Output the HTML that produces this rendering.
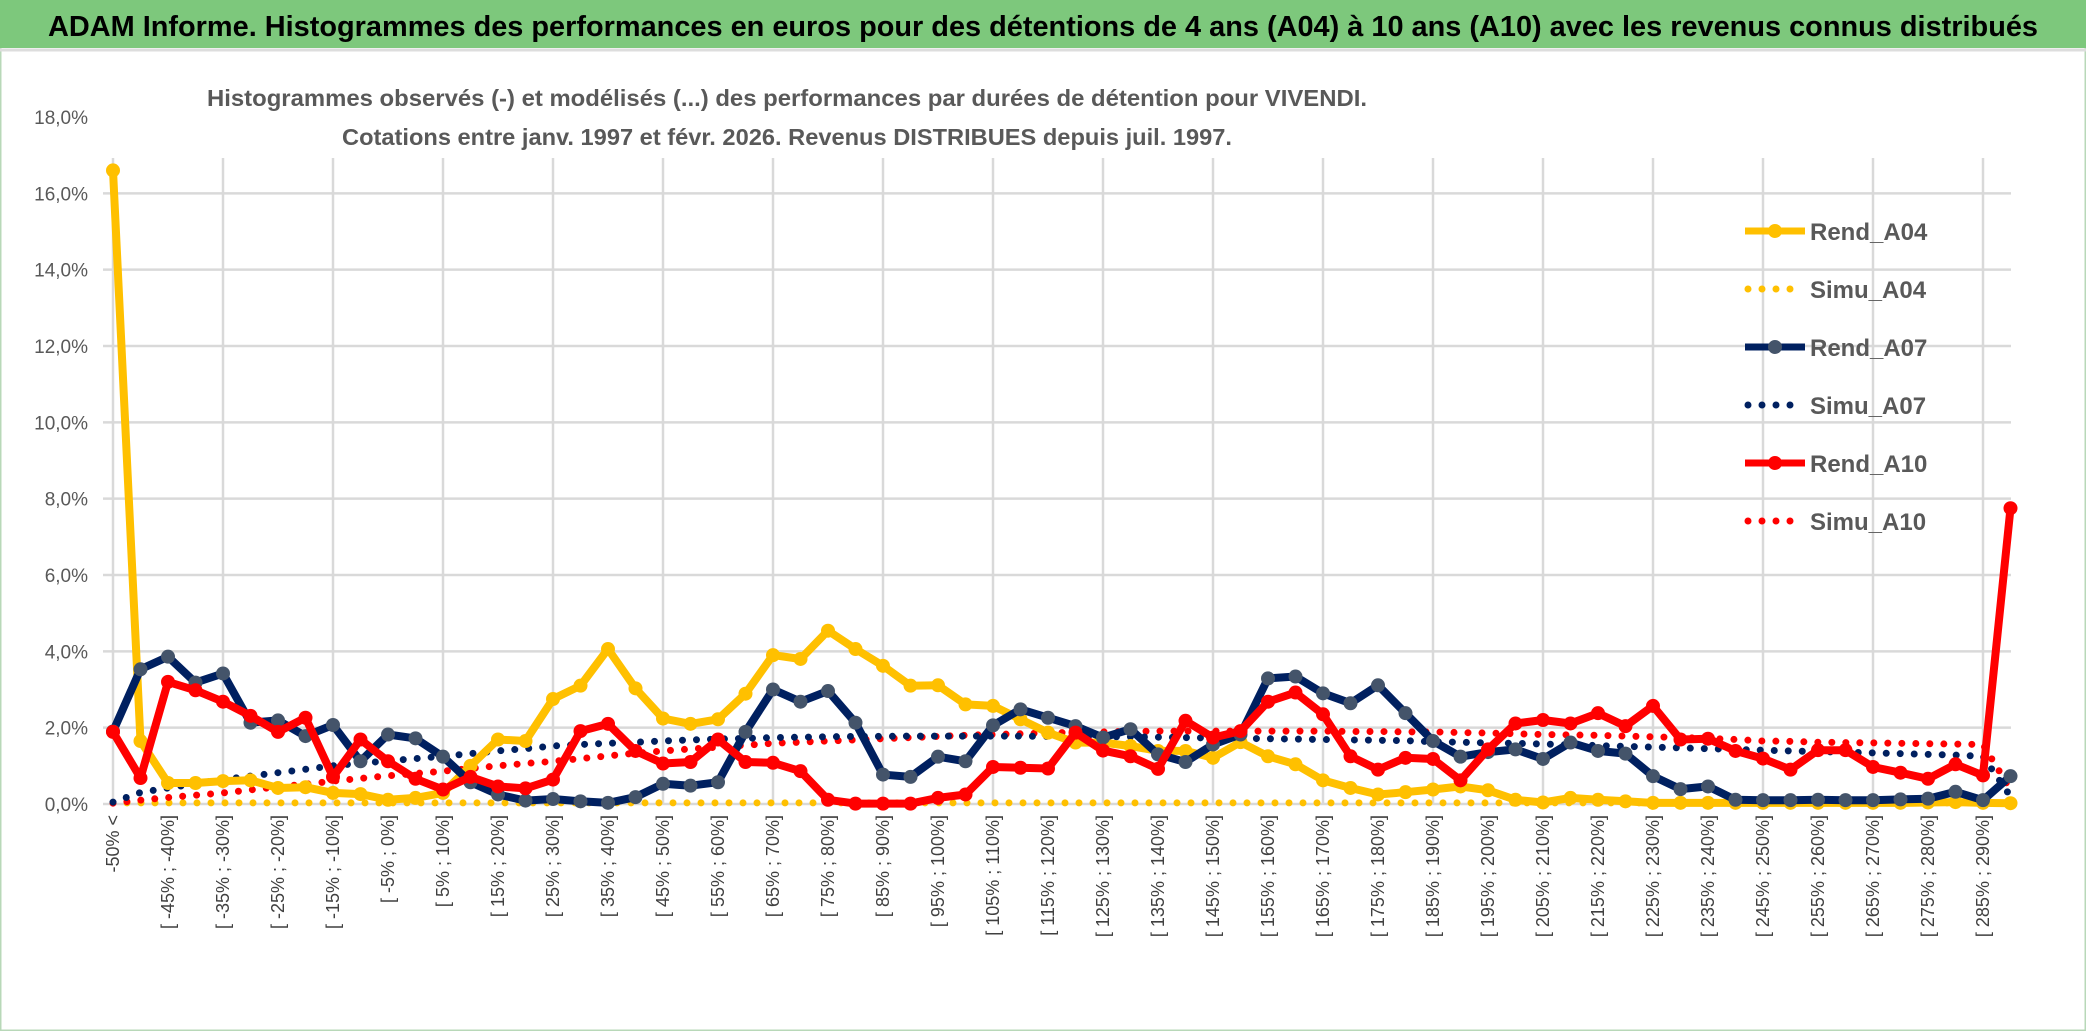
<!DOCTYPE html>
<html><head><meta charset="utf-8"><style>
body{margin:0;width:2086px;height:1031px;overflow:hidden;background:#fff;font-family:"Liberation Sans",sans-serif}
svg{display:block}
</style></head><body>
<svg id="c" width="2086" height="1031" xmlns="http://www.w3.org/2000/svg">
<rect x="0" y="0" width="2086" height="1031" fill="#fff" stroke="#b8d8b8" stroke-width="3"/>
<rect x="0" y="0" width="2086" height="48" fill="#7dc87c"/>
<line x1="0" y1="50" x2="2086" y2="50" stroke="#ddd" stroke-width="3"/>
<text x="1043" y="36" text-anchor="middle" font-family="'Liberation Sans Narrow','Liberation Sans',sans-serif" font-size="29" font-weight="bold" fill="#000" textLength="1990" lengthAdjust="spacingAndGlyphs">ADAM Informe. Histogrammes des performances en euros pour des détentions de 4 ans (A04) à 10 ans (A10) avec les revenus connus distribués</text>
<g id="grid"></g>
<rect x="100" y="72" width="1920" height="86" fill="#fff"/>
<text x="787" y="106" text-anchor="middle" font-size="23" font-weight="bold" fill="#595959" textLength="1160" lengthAdjust="spacingAndGlyphs">Histogrammes observés (-) et modélisés (...) des performances par durées de détention pour VIVENDI.</text>
<text x="787" y="145" text-anchor="middle" font-size="23" font-weight="bold" fill="#595959" textLength="890" lengthAdjust="spacingAndGlyphs">Cotations entre janv. 1997 et févr. 2026. Revenus DISTRIBUES depuis juil. 1997.</text>
<g id="series"></g>
<g id="legend"></g>
</svg>
<script>
const yTicks=[0,2,4,6,8,10,12,14,16,18];
const rendA04=[16.6,1.65,0.55,0.55,0.6,0.62,0.42,0.44,0.29,0.26,0.11,0.16,0.29,1.0,1.69,1.65,2.75,3.1,4.06,3.03,2.24,2.1,2.22,2.89,3.9,3.8,4.54,4.06,3.62,3.1,3.11,2.61,2.57,2.22,1.87,1.61,1.61,1.52,1.39,1.39,1.21,1.62,1.25,1.04,0.62,0.42,0.25,0.31,0.38,0.46,0.36,0.11,0.04,0.16,0.11,0.07,0.03,0.03,0.03,0.03,0.03,0.03,0.03,0.03,0.03,0.03,0.04,0.05,0.03,0.02];
const simuA04=[0.03,0.03,0.03,0.03,0.03,0.03,0.03,0.03,0.03,0.03,0.03,0.03,0.03,0.03,0.03,0.03,0.03,0.03,0.03,0.03,0.03,0.03,0.03,0.03,0.03,0.03,0.03,0.03,0.03,0.03,0.03,0.03,0.03,0.03,0.03,0.03,0.03,0.03,0.03,0.03,0.03,0.03,0.03,0.03,0.03,0.03,0.03,0.03,0.03,0.03,0.03,0.03,0.03,0.03,0.03,0.03,0.03,0.03,0.03,0.03,0.03,0.03,0.03,0.03,0.03,0.03,0.03,0.03,0.03,0.03];
const rendA07=[1.9,3.53,3.86,3.18,3.42,2.13,2.19,1.78,2.07,1.12,1.82,1.72,1.24,0.57,0.25,0.09,0.13,0.07,0.03,0.18,0.53,0.48,0.57,1.89,3.0,2.68,2.96,2.13,0.77,0.71,1.24,1.12,2.06,2.48,2.26,2.04,1.74,1.96,1.3,1.1,1.56,1.82,3.29,3.34,2.9,2.64,3.11,2.38,1.65,1.24,1.36,1.43,1.18,1.61,1.39,1.32,0.73,0.39,0.46,0.11,0.1,0.1,0.11,0.1,0.1,0.12,0.14,0.32,0.1,0.73];
const simuA07=[0.05,0.3,0.42,0.53,0.64,0.73,0.82,0.91,1.0,1.07,1.13,1.19,1.25,1.32,1.39,1.45,1.52,1.56,1.59,1.62,1.65,1.68,1.7,1.72,1.74,1.75,1.76,1.77,1.77,1.78,1.78,1.78,1.78,1.78,1.77,1.77,1.76,1.76,1.75,1.74,1.73,1.72,1.71,1.7,1.69,1.68,1.67,1.66,1.63,1.62,1.6,1.59,1.57,1.55,1.53,1.51,1.49,1.47,1.45,1.43,1.41,1.39,1.37,1.36,1.34,1.32,1.3,1.28,1.25,0.2];
const rendA10=[1.89,0.68,3.2,2.98,2.68,2.31,1.89,2.26,0.71,1.69,1.12,0.66,0.38,0.71,0.46,0.41,0.64,1.91,2.1,1.39,1.06,1.1,1.69,1.1,1.08,0.86,0.11,0.01,0.01,0.01,0.16,0.25,0.97,0.95,0.93,1.87,1.4,1.25,0.92,2.18,1.74,1.91,2.68,2.92,2.35,1.25,0.9,1.21,1.18,0.62,1.43,2.11,2.2,2.11,2.38,2.04,2.57,1.69,1.71,1.39,1.19,0.9,1.41,1.41,0.97,0.82,0.66,1.04,0.75,7.75];
const simuA10=[0.02,0.1,0.17,0.23,0.29,0.37,0.45,0.52,0.6,0.67,0.74,0.8,0.86,0.93,1.0,1.06,1.12,1.19,1.26,1.33,1.39,1.44,1.49,1.54,1.59,1.62,1.65,1.68,1.71,1.74,1.77,1.8,1.82,1.84,1.86,1.88,1.89,1.9,1.91,1.91,1.91,1.91,1.91,1.91,1.91,1.9,1.9,1.89,1.89,1.87,1.86,1.84,1.82,1.81,1.8,1.78,1.76,1.74,1.72,1.69,1.65,1.64,1.62,1.61,1.6,1.59,1.58,1.57,1.56,0.38];
const categories=[];
categories.push('-50% <');
for(let v=-50;v<295;v+=5){categories.push('[ '+v+'% ; '+(v+5)+'%]');}

const svg=document.getElementById('c'),NS='http://www.w3.org/2000/svg';
const X0=113,DX=27.5,Y0=804,YS=(804-117)/18;
const xs=i=>X0+i*DX, ys=v=>Y0-v*YS;
function mk(tag,attrs,parent){const e=document.createElementNS(NS,tag);for(const k in attrs)e.setAttribute(k,attrs[k]);parent.appendChild(e);return e;}
const grid=document.getElementById('grid');
yTicks.forEach(t=>{
  const l=mk('line',{x1:X0-10,x2:2011,y1:ys(t),y2:ys(t),stroke:'#d9d9d9','stroke-width':2.5},grid);
  
  
  const tx=mk('text',{x:88,y:ys(t)+7,'text-anchor':'end','font-size':19,fill:'#595959'},grid);
  
  
  tx.textContent=t.toFixed(1).replace('.',',')+'%';
});
for(let i=0;i<categories.length;i+=4){
  const l=mk('line',{x1:xs(i),x2:xs(i),y1:158,y2:Y0,stroke:'#d9d9d9','stroke-width':2.5},grid);
  
  
}
categories.forEach((c,i)=>{
  if(i%2)return;
  const t=mk('text',{x:0,y:0,'text-anchor':'end','font-size':18,fill:'#404040',transform:`translate(${xs(i)+6},815) rotate(-90)`},grid);
  
  
  t.textContent=c;
});
const ser=document.getElementById('series');
function drawLine(data,color,name){
  const d=data.map((v,i)=>(i?'L':'M')+xs(i).toFixed(1)+','+ys(v).toFixed(1)).join('');
  const p=mk('path',{d,fill:'none',stroke:color,'stroke-width':8,'stroke-linejoin':'round'},ser);
  
  
  const mc=color==='#002060'?'#44546a':color;
  data.forEach((v,i)=>{
    const m=mk('circle',{cx:xs(i),cy:ys(v),r:7,fill:mc},ser);
    
    
  });
}
function drawDots(data,color,name){
  const d=data.map((v,i)=>(i?'L':'M')+xs(i).toFixed(1)+','+ys(v).toFixed(1)).join('');
  const p=mk('path',{d,fill:'none',stroke:color,'stroke-width':7,'stroke-linecap':'round','stroke-dasharray':'0 14'},ser);
  
  
}
drawDots(simuA04,'#ffc000','simu-a04');
drawDots(simuA10,'#ff0000','simu-a10');
drawDots(simuA07,'#002060','simu-a07');
drawLine(rendA04,'#ffc000','rend-a04');
drawLine(rendA07,'#002060','rend-a07');
drawLine(rendA10,'#ff0000','rend-a10');
const leg=document.getElementById('legend');
const legItems=[['Rend_A04','#ffc000',0],['Simu_A04','#ffc000',1],['Rend_A07','#002060',0],['Simu_A07','#002060',1],['Rend_A10','#ff0000',0],['Simu_A10','#ff0000',1]];
legItems.forEach((it,k)=>{
  const y=231+k*58;
  const g=mk('g',{},leg);
  
  
  if(it[2]){mk('line',{x1:1748,x2:1802,y1:y,y2:y,stroke:it[1],'stroke-width':7,'stroke-linecap':'round','stroke-dasharray':'0 14'},g);}
  else{mk('line',{x1:1745,x2:1805,y1:y,y2:y,stroke:it[1],'stroke-width':7},g);mk('circle',{cx:1775,cy:y,r:7,fill:it[1]==='#002060'?'#44546a':it[1]},g);}
  const t=mk('text',{x:1810,y:y+9,'font-size':24,'font-weight':'bold',fill:'#595959'},g);
  t.textContent=it[0];
});
</script>
</body></html>
